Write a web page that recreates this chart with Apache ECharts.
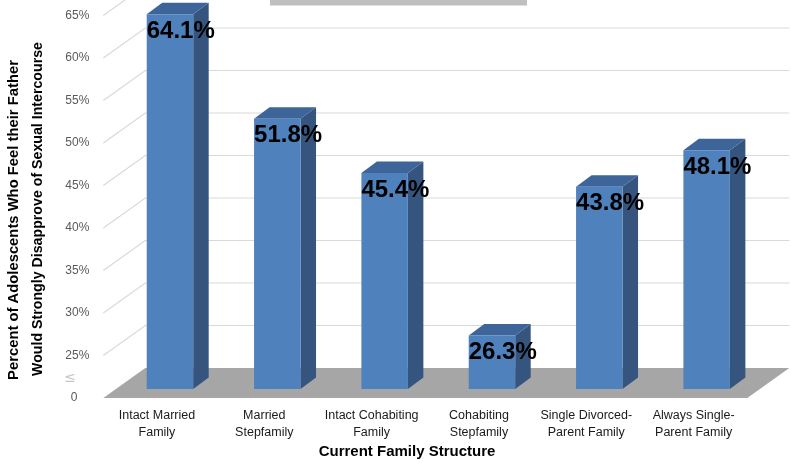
<!DOCTYPE html>
<html>
<head>
<meta charset="utf-8">
<script src="https://cdn.jsdelivr.net/npm/echarts@6/dist/echarts.min.js"></script>
<style>html,body{margin:0;padding:0;background:#fff}#c{width:791px;height:465px}</style>
</head>
<body>
<div id="c"></div>
<script>
const categories = ['Intact Married\nFamily', 'Married\nStepfamily', 'Intact Cohabiting\nFamily', 'Cohabiting\nStepfamily', 'Single Divorced-\nParent Family', 'Always Single-\nParent Family'];
const values = [64.1, 51.8, 45.4, 26.3, 43.8, 48.1];
const tickValues = [25, 30, 35, 40, 45, 50, 55, 60, 65];
const yMin = 20, yMax = 65, yStep = 5;

const FONT = 'Liberation Sans';
const DEPTH_DX = 42, DEPTH_DY = -30;   // floor / wall depth
const BAR_DX = 15.5, BAR_DY = -11.5;   // bar depth

const chart = echarts.init(document.getElementById('c'), null, {renderer: 'canvas'});

const option = {
  backgroundColor: '#ffffff',
  animation: false,
  textStyle: {fontFamily: FONT},
  grid: [
    {left: 116.3, right: 30.7, top: 6.5, bottom: 76},
    {left: 103.3, right: 43.7, top: 15.5, bottom: 67}
  ],
  xAxis: [
    {gridIndex: 0, type: 'category', data: categories, show: false},
    {gridIndex: 1, type: 'category', data: categories,
      axisLine: {show: false}, axisTick: {show: false},
      axisLabel: {interval: 0, margin: 9, fontSize: 12.5, color: '#1a1a1a', lineHeight: 17, fontFamily: FONT}}
  ],
  yAxis: [
    {gridIndex: 0, type: 'value', min: yMin, max: yMax, interval: yStep, show: false},
    {gridIndex: 1, type: 'value', min: yMin, max: yMax, interval: yStep,
      axisLine: {show: false}, axisTick: {show: false}, splitLine: {show: false},
      axisLabel: {margin: 14, fontSize: 12, color: '#595959', fontFamily: FONT,
        formatter: v => v === yMin ? '{z|0}' : v + '%',
        rich: {z: {padding: [0, 12, 0, 0], fontSize: 12, color: '#595959', fontFamily: FONT}}}}
  ],
  graphic: [
    {type: 'rect', shape: {x: 270, y: -10, width: 257, height: 15.5}, style: {fill: '#bfbfbf'}},
    {type: 'text', x: 70, y: 378, style: {text: '≤', fill: '#c8c8c8', fontSize: 14, fontFamily: 'DejaVu Sans', textAlign: 'center', textVerticalAlign: 'middle'}},
    {type: 'text', x: 14, y: 220, rotation: Math.PI / 2,
      style: {text: 'Percent of Adolescents Who Feel their Father',
        fill: '#000', fontSize: 14.8, fontWeight: 'bold', fontFamily: FONT,
        textAlign: 'center', textVerticalAlign: 'middle'}},
    {type: 'text', x: 38, y: 209, rotation: Math.PI / 2,
      style: {text: 'Would Strongly Disapprove of Sexual Intercourse',
        fill: '#000', fontSize: 14.2, fontWeight: 'bold', fontFamily: FONT,
        textAlign: 'center', textVerticalAlign: 'middle'}},
    {type: 'text', x: 407, y: 452, style: {text: 'Current Family Structure', fill: '#000', fontSize: 15, fontWeight: 'bold', fontFamily: FONT, textAlign: 'center', textVerticalAlign: 'middle'}}
  ],
  series: [
    {
      type: 'custom', xAxisIndex: 1, yAxisIndex: 1, z: 1, silent: true,
      data: [[0, yMin]],
      renderItem: function (params, api) {
        const cs = params.coordSys;
        const yb = cs.y + cs.height;
        return {type: 'polygon', shape: {points: [
          [cs.x, yb], [cs.x + cs.width, yb],
          [cs.x + cs.width + DEPTH_DX, yb + DEPTH_DY], [cs.x + DEPTH_DX, yb + DEPTH_DY]
        ]}, style: {fill: '#a6a6a6'}};
      }
    },
    {
      type: 'custom', xAxisIndex: 1, yAxisIndex: 1, z: 1, silent: true,
      data: tickValues.map(v => [0, v]),
      renderItem: function (params, api) {
        const cs = params.coordSys;
        const y = api.coord([0, api.value(1)])[1];
        return {type: 'polyline', shape: {points: [
          [cs.x, y], [cs.x + DEPTH_DX, y + DEPTH_DY], [cs.x + cs.width + DEPTH_DX, y + DEPTH_DY]
        ]}, style: {stroke: '#d9d9d9', lineWidth: 1.2, fill: null}};
      }
    },
    {
      type: 'custom', xAxisIndex: 0, yAxisIndex: 0, z: 5, silent: true,
      data: values.map((v, i) => [i, v]),
      renderItem: function (params, api) {
        const i = api.value(0), v = api.value(1);
        const top = api.coord([i, v]);
        const base = api.coord([i, yMin]);
        const bw = api.size([1, 0])[0] * 0.433;
        const x0 = top[0] - bw / 2, x1 = top[0] + bw / 2, yT = top[1], yB = base[1];
        return {type: 'group', children: [
          {type: 'polygon', shape: {points: [[x1, yT], [x1 + BAR_DX, yT + BAR_DY], [x1 + BAR_DX, yB + BAR_DY], [x1, yB]]}, style: {fill: '#35557f'}},
          {type: 'polygon', shape: {points: [[x0, yT], [x0 + BAR_DX, yT + BAR_DY], [x1 + BAR_DX, yT + BAR_DY], [x1, yT]]}, style: {fill: '#3d6599'}},
          {type: 'rect', shape: {x: x0, y: yT, width: bw, height: yB - yT}, style: {fill: '#4f81bd'}},
          {type: 'text', x: x0, y: yT + 17, z2: 10, style: {text: v.toFixed(1) + '%', fill: '#000', fontSize: 24, fontWeight: 'bold', fontFamily: FONT, textAlign: 'left', textVerticalAlign: 'middle'}}
        ]};
      }
    }
  ]
};
chart.setOption(option);
</script>
</body>
</html>
